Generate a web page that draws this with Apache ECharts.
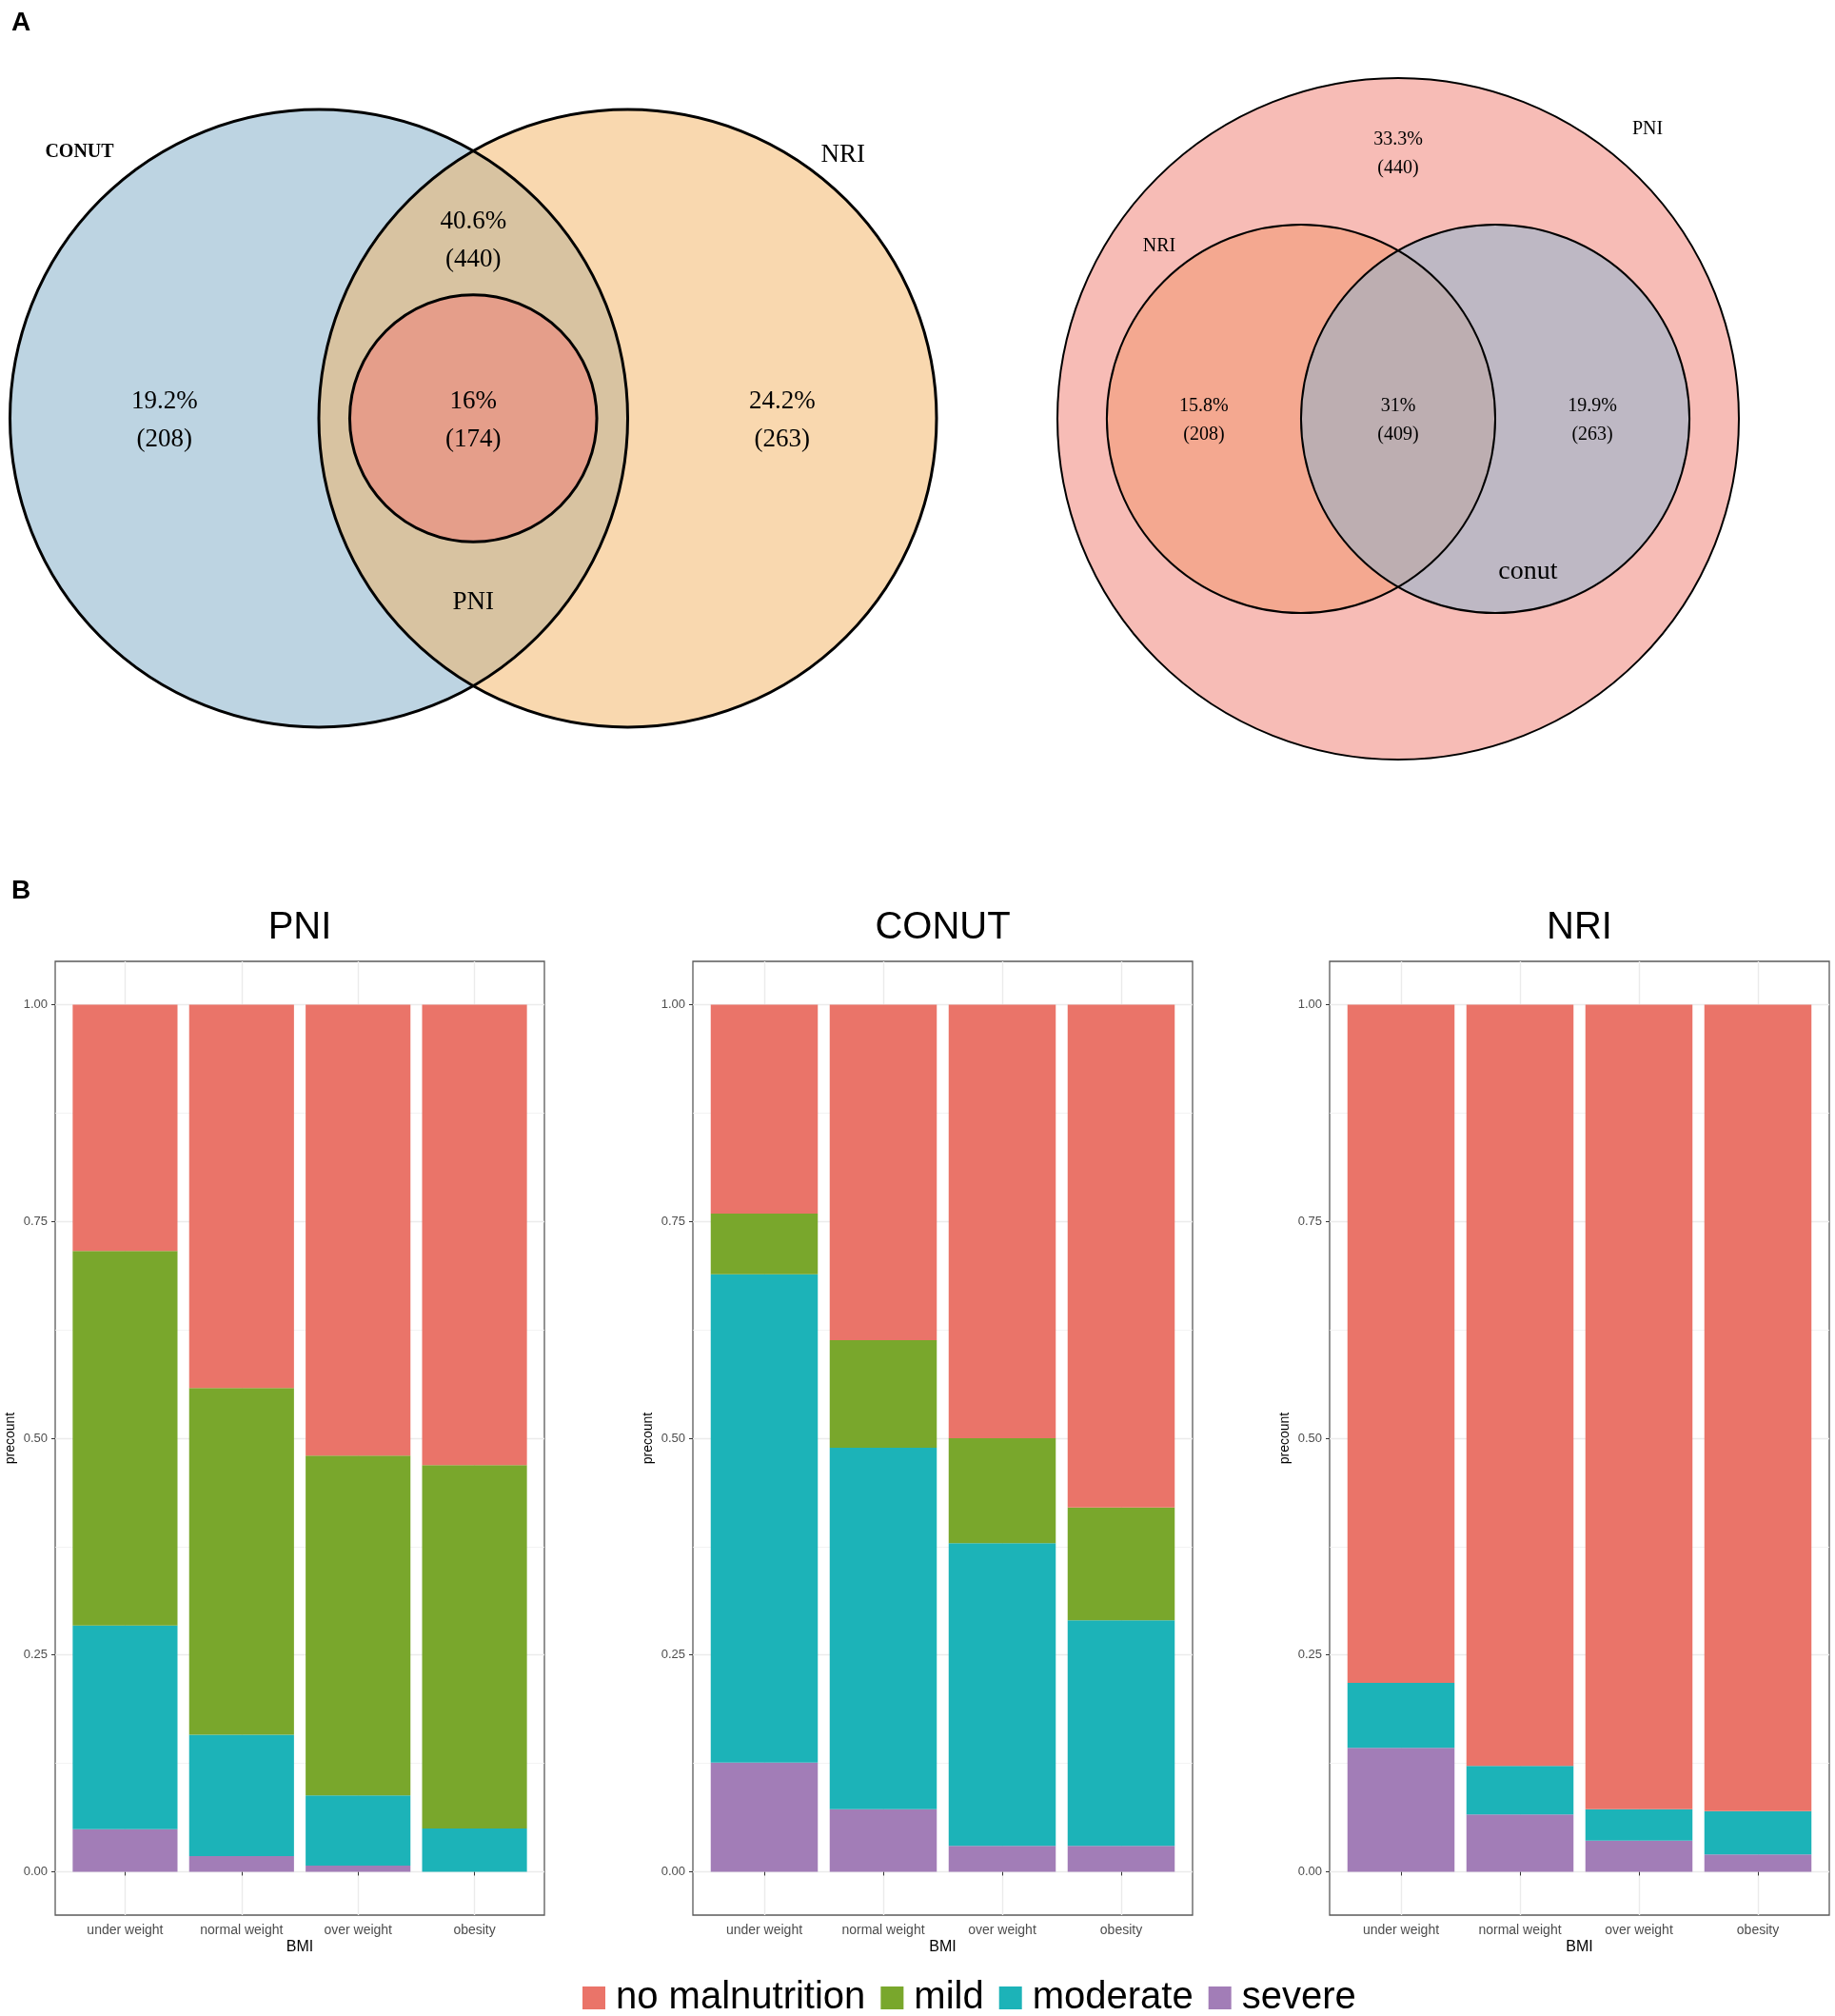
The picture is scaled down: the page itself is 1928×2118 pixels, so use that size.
<!DOCTYPE html>
<html>
<head>
<meta charset="utf-8">
<script src="https://cdn.jsdelivr.net/npm/echarts@6.0.0/dist/echarts.min.js"></script>
<style>
html,body{margin:0;padding:0;background:#ffffff;}
#c{width:1928px;height:2118px;}
</style>
</head>
<body>
<div id="c"></div>
<script>
// ---------------- DATA ----------------
const bmiCategories = ['under weight', 'normal weight', 'over weight', 'obesity'];
const severityLevels = ['no malnutrition', 'mild', 'moderate', 'severe'];
const panelTitles = ['PNI', 'CONUT', 'NRI'];
const yTickValues = [0, 0.25, 0.5, 0.75, 1];
const yMinorValues = [0.125, 0.375, 0.625, 0.875];

// proportions per BMI category (under, normal, over, obesity)
const pniNoMalnutrition = [0.284, 0.442, 0.520, 0.531];
const pniMild           = [0.432, 0.400, 0.392, 0.419];
const pniModerate       = [0.235, 0.140, 0.081, 0.050];
const pniSevere         = [0.049, 0.018, 0.007, 0.000];

const conutNoMalnutrition = [0.241, 0.387, 0.500, 0.580];
const conutMild           = [0.070, 0.124, 0.121, 0.130];
const conutModerate       = [0.563, 0.417, 0.349, 0.260];
const conutSevere         = [0.126, 0.072, 0.030, 0.030];

const nriNoMalnutrition = [0.782, 0.878, 0.928, 0.930];
const nriMild           = [0.000, 0.000, 0.000, 0.000];
const nriModerate       = [0.075, 0.056, 0.036, 0.050];
const nriSevere         = [0.143, 0.066, 0.036, 0.020];

// Venn diagram texts
const vennLeftSetNames = ['CONUT', 'NRI', 'PNI'];
const vennLeftPercents = ['19.2%', '40.6%', '16%', '24.2%'];
const vennLeftCounts   = ['(208)', '(440)', '(174)', '(263)'];
const vennRightSetNames = ['PNI', 'NRI', 'conut'];
const vennRightPercents = ['33.3%', '15.8%', '31%', '19.9%'];
const vennRightCounts   = ['(440)', '(208)', '(409)', '(263)'];

// ---------------- STYLE / LAYOUT ----------------
const severityColors = ['#EA7469', '#79A72C', '#1CB3B8', '#A27DB7'];
const serif = '"Liberation Serif", "Times New Roman", serif';
const sans = '"Liberation Sans", Arial, sans-serif';

const panelLayout = [
  { left: 58, width: 514 },
  { left: 728, width: 525 },
  { left: 1397, width: 525 }
];
const panelTop = 1010, panelHeight = 1002;

// Venn geometry (unit coordinates)
const vennLeftCircles = [[-0.5, 0, 1], [0.5, 0, 1], [0, 0, 0.4]];
const vennLeftFills = ['rgba(123,169,198,0.5)', 'rgba(243,177,95,0.5)', 'rgba(242,122,116,0.5)'];
const vennRightCircles = [[0, 0, 1], [-0.285, 0, 0.57], [0.285, 0, 0.57]];
const vennRightFills = ['rgba(239,121,109,0.5)', 'rgba(241,148,106,0.5)', 'rgba(133,180,210,0.5)'];

const vennLeftLabels = [
  { x: -1.275, y: -0.863, text: vennLeftSetNames[0], size: 20, bold: true },
  { x: 1.197, y: -0.853, text: vennLeftSetNames[1], size: 27 },
  { x: 0, y: 0.596, text: vennLeftSetNames[2], size: 27 },
  { x: -1.0, y: 0.007, text: vennLeftPercents[0] + '\n' + vennLeftCounts[0], size: 27, lh: 40 },
  { x: 0, y: -0.575, text: vennLeftPercents[1] + '\n' + vennLeftCounts[1], size: 27, lh: 40 },
  { x: 0, y: 0.007, text: vennLeftPercents[2] + '\n' + vennLeftCounts[2], size: 27, lh: 40 },
  { x: 1.0, y: 0.007, text: vennLeftPercents[3] + '\n' + vennLeftCounts[3], size: 27, lh: 40 }
];
const vennRightLabels = [
  { x: 0.732, y: -0.85, text: vennRightSetNames[0], size: 20 },
  { x: -0.701, y: -0.505, text: vennRightSetNames[1], size: 20 },
  { x: 0.381, y: 0.449, text: vennRightSetNames[2], size: 28 },
  { x: 0, y: -0.778, text: vennRightPercents[0] + '\n' + vennRightCounts[0], size: 20, lh: 30 },
  { x: -0.57, y: 0.004, text: vennRightPercents[1] + '\n' + vennRightCounts[1], size: 20, lh: 30 },
  { x: 0, y: 0.004, text: vennRightPercents[2] + '\n' + vennRightCounts[2], size: 20, lh: 30 },
  { x: 0.57, y: 0.004, text: vennRightPercents[3] + '\n' + vennRightCounts[3], size: 20, lh: 30 }
];

const panelSeriesData = [
  [pniNoMalnutrition, pniMild, pniModerate, pniSevere],
  [conutNoMalnutrition, conutMild, conutModerate, conutSevere],
  [nriNoMalnutrition, nriMild, nriModerate, nriSevere]
];

// ---------------- BUILD OPTION ----------------
const grids = [], xAxes = [], yAxes = [], series = [];

panelLayout.forEach((p, i) => {
  grids.push({
    left: p.left, top: panelTop, width: p.width, height: panelHeight,
    show: true, borderColor: '#5a5a5a', borderWidth: 1.3, backgroundColor: '#ffffff'
  });
  xAxes.push({
    type: 'value', gridIndex: i, min: 0.4, max: 4.6,
    axisLine: { show: false },
    axisTick: { show: true, customValues: [1, 2, 3, 4], length: 4, lineStyle: { color: '#333333', width: 1 } },
    axisLabel: {
      customValues: [1, 2, 3, 4],
      formatter: v => bmiCategories[Math.round(v) - 1],
      fontSize: 14, color: '#4D4D4D', fontFamily: sans, margin: 9
    },
    splitLine: { show: true, lineStyle: { color: '#EBEBEB', width: 1.4 } },
    name: 'BMI', nameLocation: 'middle', nameGap: 26,
    nameTextStyle: { fontSize: 16, color: '#000000', fontFamily: sans }
  });
  yAxes.push({
    type: 'value', gridIndex: i, min: -0.05, max: 1.05,
    axisLine: { show: false },
    axisTick: { show: true, customValues: yTickValues, length: 4, lineStyle: { color: '#333333', width: 1 } },
    axisLabel: {
      customValues: yTickValues, formatter: v => v.toFixed(2),
      fontSize: 13, color: '#4D4D4D', fontFamily: sans, margin: 8
    },
    splitLine: { show: true, lineStyle: { color: '#EBEBEB', width: 1.4 } },
    name: 'precount', nameLocation: 'middle', nameGap: 40, nameRotate: 90,
    nameTextStyle: { fontSize: 14, color: '#000000', fontFamily: sans }
  });
});
// minor grid line axes
panelLayout.forEach((p, i) => {
  yAxes.push({
    type: 'value', gridIndex: i, min: -0.05, max: 1.05, position: 'left',
    axisLine: { show: false },
    axisTick: { show: false, customValues: yMinorValues },
    axisLabel: { show: false, customValues: yMinorValues },
    splitLine: { show: true, lineStyle: { color: '#F0F0F0', width: 0.8 } }
  });
});

// bar series: bottom of stack first (severe), top last (no malnutrition)
// value dimension first so the stack is applied to it
panelSeriesData.forEach((arrs, i) => {
  for (let k = 3; k >= 0; k--) {
    series.push({
      type: 'bar', name: severityLevels[k], xAxisIndex: i, yAxisIndex: i,
      stack: 'panel' + i, barWidth: '90%',
      itemStyle: { color: severityColors[k] },
      encode: { x: 1, y: 0 },
      data: arrs[k].map((v, j) => [v, j + 1]),
      z: 3
    });
  }
});

// Venn grids (index 3 and 4)
grids.push({ left: 10.5, top: 115, width: 973.5, height: 649, show: false });
grids.push({ left: 1111, top: 82, width: 716, height: 716, show: false });
xAxes.push({ type: 'value', gridIndex: 3, min: -1.5, max: 1.5, show: false });
yAxes.push({ type: 'value', gridIndex: 3, min: -1, max: 1, inverse: true, show: false });
xAxes.push({ type: 'value', gridIndex: 4, min: -1, max: 1, show: false });
yAxes.push({ type: 'value', gridIndex: 4, min: -1, max: 1, inverse: true, show: false });

function circleSeries(axisIdx, circles, fills, strokeOnly, lw) {
  return {
    type: 'custom', xAxisIndex: axisIdx, yAxisIndex: axisIdx === 3 ? 6 : 7,
    silent: true, z: strokeOnly ? 6 : 5,
    data: circles,
    encode: { x: 0, y: 1 },
    renderItem: function (params, api) {
      const c = api.coord([api.value(0), api.value(1)]);
      const s = api.size([api.value(2), api.value(2)]);
      return {
        type: 'circle',
        shape: { cx: c[0], cy: c[1], r: s[0] },
        style: strokeOnly
          ? { fill: 'none', stroke: '#000000', lineWidth: lw }
          : { fill: fills[params.dataIndex], stroke: 'none' }
      };
    }
  };
}
function labelSeries(axisIdx, labels) {
  return {
    type: 'custom', xAxisIndex: axisIdx, yAxisIndex: axisIdx === 3 ? 6 : 7,
    silent: true, z: 7,
    data: labels.map(l => [l.x, l.y]),
    encode: { x: 0, y: 1 },
    renderItem: function (params, api) {
      const l = labels[params.dataIndex];
      const c = api.coord([api.value(0), api.value(1)]);
      return {
        type: 'text', x: c[0], y: c[1],
        style: {
          text: l.text, fill: '#000000', fontFamily: serif,
          fontSize: l.size, fontWeight: l.bold ? 'bold' : 'normal',
          lineHeight: l.lh || l.size,
          align: 'center', verticalAlign: 'middle'
        }
      };
    }
  };
}
series.push(circleSeries(3, vennLeftCircles, vennLeftFills, false));
series.push(circleSeries(3, vennLeftCircles, vennLeftFills, true, 3));
series.push(labelSeries(3, vennLeftLabels));
series.push(circleSeries(4, vennRightCircles, vennRightFills, false));
series.push(circleSeries(4, vennRightCircles, vennRightFills, true, 2));
series.push(labelSeries(4, vennRightLabels));

const titleTexts = [
  { text: 'A', x: 22, y: 24, size: 28, bold: true },
  { text: 'B', x: 22, y: 936, size: 28, bold: true }
];
const graphics = titleTexts.map(t => ({
  type: 'text', x: t.x, y: t.y,
  style: { text: t.text, fontFamily: sans, fontSize: t.size, fontWeight: 'bold', fill: '#000', align: 'center', verticalAlign: 'middle' }
}));
panelLayout.forEach((p, i) => {
  graphics.push({
    type: 'text', x: p.left + p.width / 2, y: 975,
    style: { text: panelTitles[i], fontFamily: sans, fontSize: 40, fill: '#000', align: 'center', verticalAlign: 'middle' }
  });
});

const option = {
  backgroundColor: '#ffffff',
  animation: false,
  grid: grids,
  xAxis: xAxes,
  yAxis: yAxes,
  series: series,
  graphic: graphics,
  legend: {
    data: severityLevels,
    left: 607, top: 2074,
    icon: 'rect', itemWidth: 24, itemHeight: 24, itemGap: 16,
    textStyle: { fontSize: 40, color: '#000000', fontFamily: sans, padding: [0, 0, 0, 6] },
    selectedMode: false
  }
};

const chart = echarts.init(document.getElementById('c'), null, { renderer: 'canvas', width: 1928, height: 2118 });
chart.setOption(option);
</script>
</body>
</html>
